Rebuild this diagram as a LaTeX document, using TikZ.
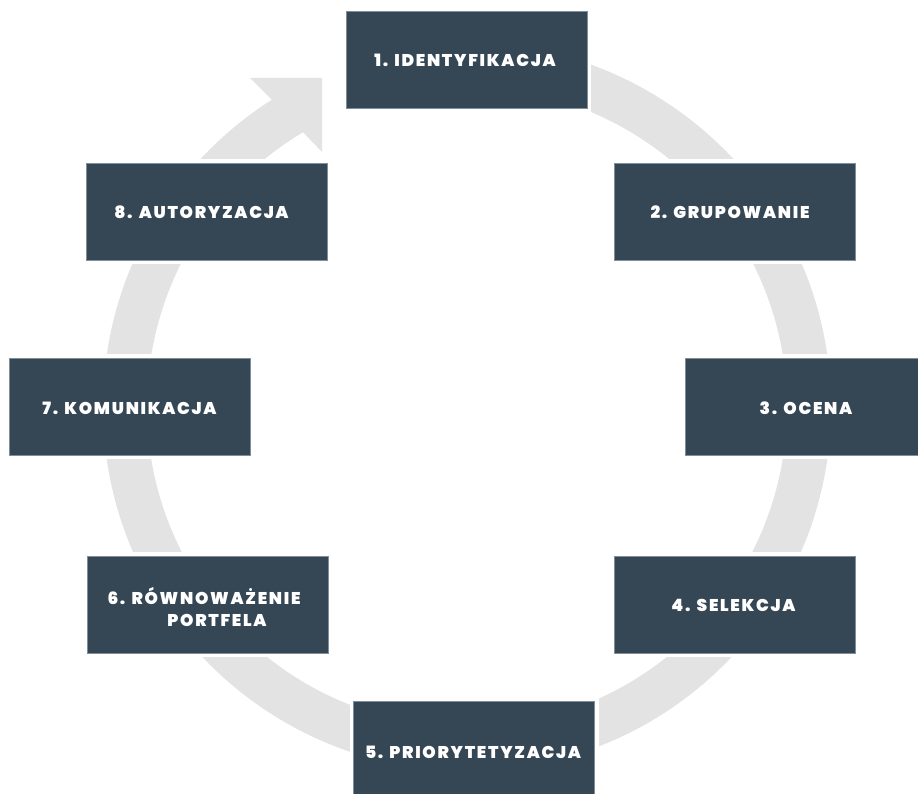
\documentclass[tikz,border=0pt]{standalone}
\usepackage{fontspec}
\newfontfamily\boxfont{Poppins}[LetterSpace=10, BoldFont={Poppins Black}]
\usetikzlibrary{calc}
\definecolor{ringgray}{HTML}{E3E3E3}
\definecolor{boxfill}{HTML}{354655}
\definecolor{boxedge}{HTML}{7F8E99}
\begin{document}
\begin{tikzpicture}[x=1pt,y=1pt,
  stagebox/.style={rectangle, minimum width=241pt, minimum height=97pt, inner sep=0pt,
    fill=boxfill, draw=boxedge, line width=0.8pt, preaction={draw=white, line width=8pt}},
  stagelabel/.style={text=white, font=\boxfont\bfseries\fontsize{17}{22}\selectfont,
    inner sep=0pt, text height=11.9pt, text depth=0pt}]
\useasboundingbox (0,0) rectangle (918,-794);
\clip (0,0) rectangle (918,-794);
\fill[white] (0,0) rectangle (918,-794);
\coordinate (C) at (467,-407);
% ring with arrow head
\fill[ringgray] ($(C)+(95:364)$) arc[start angle=95, end angle=-237.57, radius=364]
  -- (250,-78) -- (322,-78) -- (322,-152) -- ($(C)+(-239.19:320)$)
  arc[start angle=-239.19, end angle=95, radius=320] -- cycle;
% boxes
\node[stagebox] (b1) at (466.5,-60) {};
\node[stagebox] (b2) at (734.5,-212) {};
\node[stagebox] (b3) at (805.5,-406.5) {};
\node[stagebox] (b4) at (734.5,-604.5) {};
\node[stagebox] (b5) at (474,-749.5) {};
\node[stagebox] (b6) at (207.5,-604.5) {};
\node[stagebox] (b7) at (130,-406.5) {};
\node[stagebox] (b8) at (207,-212) {};
% labels
\node[stagelabel] (t1) at (465,-61) {1. IDENTYFIKACJA};
\node[stagelabel] (t2) at (730,-213) {2. GRUPOWANIE};
\node[stagelabel] (t3) at (806,-409) {3. OCENA};
\node[stagelabel] (t4) at (733.5,-606) {4. SELEKCJA};
\node[stagelabel] (t5) at (473,-753) {5. PRIORYTETYZACJA};
\node[stagelabel] (t6) at (204,-599) {6. RÓWNOWAŻENIE};
\node[stagelabel] (t6b) at (217,-621) {PORTFELA};
\node[stagelabel] (t7) at (129.5,-409) {7. KOMUNIKACJA};
\node[stagelabel] (t8) at (201.5,-213) {8. AUTORYZACJA};
\end{tikzpicture}
\end{document}
